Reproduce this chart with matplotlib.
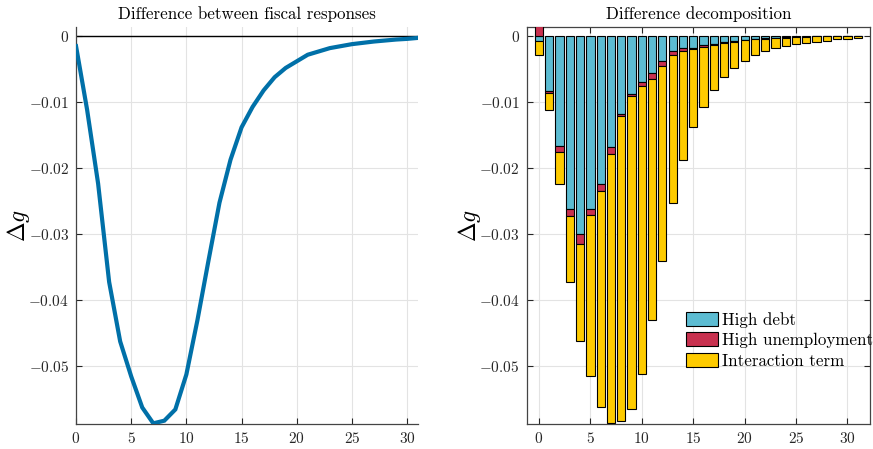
import numpy as np
import matplotlib
matplotlib.use('Agg')
import matplotlib.pyplot as plt
from matplotlib.ticker import FuncFormatter

plt.rcParams['font.family'] = 'serif'
plt.rcParams['font.serif'] = ['cmr10']
plt.rcParams['mathtext.fontset'] = 'cm'
plt.rcParams['axes.unicode_minus'] = False

# horizon (quarters)
horizon = list(range(32))

# difference between fiscal responses (left panel)
diff_response = [-0.0016, -0.0112, -0.0224, -0.0373, -0.0463, -0.0516, -0.0563, -0.0587,
                 -0.0583, -0.0566, -0.0513, -0.0431, -0.0341, -0.0253, -0.0188, -0.0139,
                 -0.0108, -0.0083, -0.0063, -0.0049, -0.0039, -0.0029, -0.0024, -0.0019,
                 -0.0016, -0.0013, -0.0011, -0.0009, -0.00075, -0.0006, -0.0005, -0.00035]

# decomposition (right panel)
high_debt = [-0.0008, -0.0084, -0.0167, -0.0263, -0.0300, -0.0263, -0.0224, -0.0169,
             -0.0119, -0.0088, -0.0071, -0.0056, -0.0038, -0.0024, -0.0019, -0.0019,
             -0.0015, -0.0013, -0.0010, -0.0008, -0.0006, -0.00045, -0.0004, -0.0003,
             -0.00025, -0.0002, -0.00015, -0.0001, -0.0001, -0.00008, -0.00006, -0.00005]
high_unemp = [0.0014, -0.0003, -0.0009, -0.0010, -0.0016, -0.0008, -0.0011, -0.0010,
              -0.0002, -0.0003, -0.0006, -0.0010, -0.0008, -0.0006, -0.0004, -0.0002,
              -0.0003, -0.0002, -0.0002, -0.0001, -0.0001, -0.0001, -0.00005, -0.00005,
              -0.00005, -0.00003, -0.00003, -0.00002, -0.00002, -0.00001, -0.00001, 0.0]
interaction = [-0.0022, -0.0025, -0.0048, -0.0100, -0.0147, -0.0245, -0.0328, -0.0408,
               -0.0462, -0.0475, -0.0436, -0.0365, -0.0295, -0.0223, -0.0165, -0.0118,
               -0.0090, -0.0068, -0.0051, -0.0040, -0.0032, -0.0024, -0.0019, -0.00155,
               -0.0013, -0.0011, -0.00095, -0.0008, -0.00065, -0.0005, -0.00045, -0.0003]
series_labels = ['High debt', 'High unemployment', 'Interaction term']
series_colors = ['#5cbcd2', '#c8314f', '#fecb00']

ylim = (-0.0588, 0.0013)
tick_fmt = FuncFormatter(lambda v, p: f'${v:g}$')


def style_axes(ax, box):
    ''' matlab-like look'''
    ax.set_ylim(ylim)
    ax.set_yticks([0, -0.01, -0.02, -0.03, -0.04, -0.05])
    ax.set_xticks(range(0, 31, 5))
    ax.xaxis.set_major_formatter(tick_fmt)
    ax.yaxis.set_major_formatter(tick_fmt)
    ax.grid(True, color='#e3e3e3', lw=0.8)
    ax.set_axisbelow(True)
    ax.tick_params(direction='in', length=4, width=0.8, colors='#262626',
                   labelsize=11, top=box, right=box, pad=5)
    for side in ['top', 'right']:
        ax.spines[side].set_visible(box)
    for sp in ax.spines.values():
        sp.set_color('#444444')
        sp.set_linewidth(0.9)
    ax.set_ylabel(r'$\Delta g$', fontsize=17)
    ax.yaxis.set_label_coords(-0.128, 0.5)


fig = plt.figure(figsize=(8.73, 4.49), dpi=100)

# left: difference between responses
ax1 = fig.add_axes([0.0871, 0.0557, 0.3918, 0.8842])
ax1.axhline(0, color='k', lw=1.0, zorder=2)
ax1.plot(horizon, diff_response, color='#0070a8', lw=3.0, zorder=3,
         solid_joinstyle='miter')
ax1.set_xlim(0, 31)
style_axes(ax1, box=False)
ax1.set_title('Difference between fiscal responses', fontsize=12.2, pad=6)

# right: stacked decomposition
ax2 = fig.add_axes([0.6033, 0.0557, 0.3933, 0.8842])
pos_bottom = np.zeros(len(horizon))
neg_bottom = np.zeros(len(horizon))
for vals, lab, col in zip([high_debt, high_unemp, interaction], series_labels, series_colors):
    vals = np.array(vals)
    bottom = np.where(vals >= 0, pos_bottom, neg_bottom)
    ax2.bar(horizon, vals, bottom=bottom, width=0.8, color=col,
            edgecolor='k', linewidth=0.8, label=lab, zorder=3)
    pos_bottom = pos_bottom + np.clip(vals, 0, None)
    neg_bottom = neg_bottom + np.clip(vals, None, 0)
ax2.set_xlim(-1.2, 32.2)
style_axes(ax2, box=True)
ax2.set_title('Difference decomposition', fontsize=12.2, pad=6)
ax2.legend(loc='upper left', bbox_to_anchor=(0.464, 0.283), frameon=False,
           fontsize=12.2, handlelength=1.9, handleheight=0.9, labelspacing=0.28,
           handletextpad=0.25, borderpad=0, borderaxespad=0)

fig.savefig('out.png', dpi=100)
